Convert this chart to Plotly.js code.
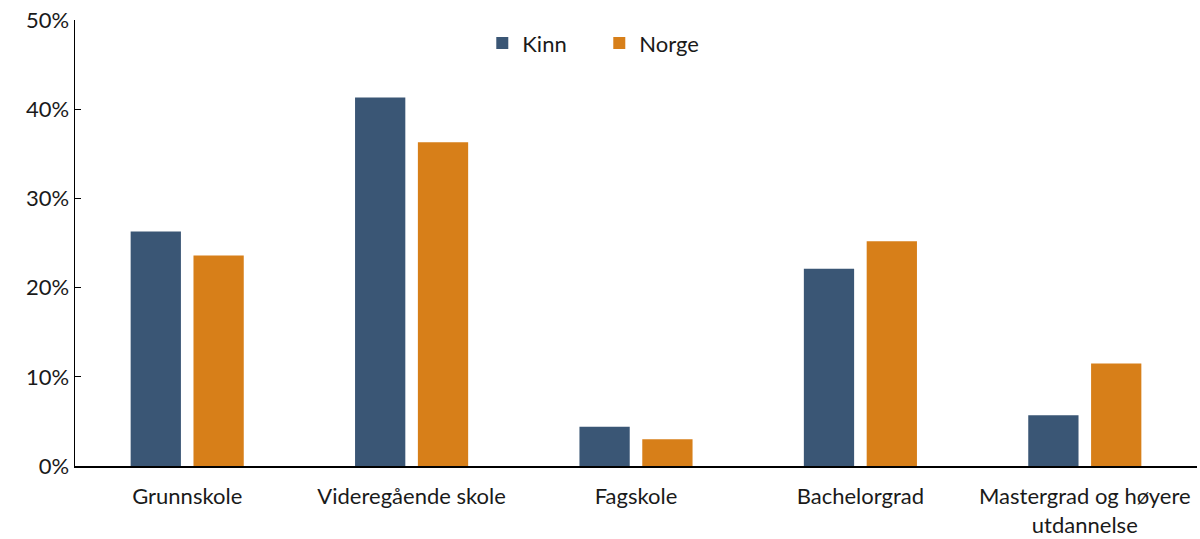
<!DOCTYPE html>
<html>
<head>
<meta charset="utf-8">
<script src="https://cdn.plot.ly/plotly-3.0.1.min.js"></script>
<style>html,body{margin:0;padding:0;background:#fff;}#chart{width:1200px;height:539px;}</style>
</head>
<body>
<div id="chart"></div>
<script>
const categories = ["Grunnskole", "Videregående skole", "Fagskole", "Bachelorgrad", "Mastergrad og høyere<br>utdannelse"];
const kinn = [26.3, 41.3, 4.4, 22.1, 5.7];
const norge = [23.6, 36.3, 3.0, 25.2, 11.5];
const yTicks = [0, 10, 20, 30, 40, 50];
const yTickText = ["0%", "10%", "20%", "30%", "40%", "50%"];

const font = {family: "Lato, 'Open Sans', sans-serif", size: 22, color: "#1a1a1a"};

const traces = [
  {type: "bar", name: "Kinn", x: categories, y: kinn, marker: {color: "#3A5675"}},
  {type: "bar", name: "Norge", x: categories, y: norge, marker: {color: "#D77F19"}}
];

const layout = {
  width: 1200, height: 539,
  margin: {l: 75, r: 3, t: 20, b: 73},
  paper_bgcolor: "#fff", plot_bgcolor: "#fff",
  font: font,
  barmode: "group",
  bargap: 0.44,
  bargroupgap: 0.2,
  showlegend: true,
  legend: {orientation: "h", x: 0.363, xanchor: "left", y: 0.995, yanchor: "top", font: font,
           entrywidth: 72, entrywidthmode: "pixels", itemwidth: 30, traceorder: "normal"},
  xaxis: {
    showline: true, linecolor: "#000", linewidth: 1.5,
    ticks: "", showgrid: false, zeroline: false,
    ticklabelstandoff: 10,
    tickfont: font, fixedrange: true
  },
  yaxis: {
    range: [0, 50], tickmode: "array", tickvals: yTicks, ticktext: yTickText,
    showline: true, linecolor: "#000", linewidth: 1.5,
    ticks: "inside", ticklen: 6, tickcolor: "#000",
    showgrid: false, zeroline: false, tickfont: font, fixedrange: true
  }
};

Plotly.newPlot("chart", traces, layout, {displayModeBar: false, staticPlot: true});
</script>
</body>
</html>
